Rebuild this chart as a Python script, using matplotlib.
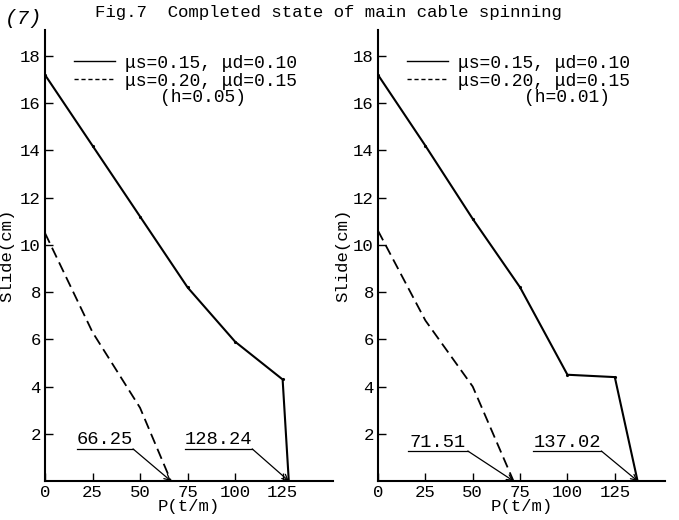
import matplotlib
matplotlib.use("Agg")
import matplotlib.pyplot as plt
from matplotlib.lines import Line2D

plt.rcParams['font.family'] = ['Liberation Mono', 'DejaVu Sans Mono']

# ---- data ----
x_ticks = [0, 25, 50, 75, 100, 125]
y_ticks = [2, 4, 6, 8, 10, 12, 14, 16, 18]

# left panel (h=0.05)
left_solid_x = [0, 25, 50, 75, 100, 125, 128.24]
left_solid_y = [17.2, 14.2, 11.2, 8.2, 5.9, 4.3, 0.0]
left_dash_x = [0, 25, 50, 66.25]
left_dash_y = [10.5, 6.3, 3.1, 0.0]

# right panel (h=0.01)
right_solid_x = [0, 25, 50, 75, 100, 125, 137.02]
right_solid_y = [17.2, 14.2, 11.1, 8.2, 4.5, 4.4, 0.0]
right_dash_x = [0, 25, 50, 71.51]
right_dash_y = [10.6, 6.8, 4.0, 0.0]

labels = ["μs=0.15, μd=0.10", "μs=0.20, μd=0.15"]
h_labels = ["(h=0.05)", "(h=0.01)"]
end_labels_left = ["66.25", "128.24"]
end_labels_right = ["71.51", "137.02"]

fig = plt.figure(figsize=(6.79, 5.20), dpi=100)
axL = fig.add_axes([45/679, 1-481/520, 288/679, 451/520])
axR = fig.add_axes([378/679, 1-481/520, 287/679, 451/520])

def style(ax):
    ax.set_xlim(0, 151.5)
    ax.set_ylim(0, 19.1)
    ax.spines['top'].set_visible(False)
    ax.spines['right'].set_visible(False)
    for s in ['left', 'bottom']:
        ax.spines[s].set_linewidth(1.5)
    ax.set_xticks(x_ticks)
    ax.set_yticks(y_ticks)
    ax.tick_params(direction='in', length=6, width=1, labelsize=12.5, pad=3)
    ax.set_xlabel("P(t/m)", fontsize=12.5, labelpad=-1)

def draw(ax, sx, sy, dx, dy, hlab, hx, ends, ann):
    ax.plot(sx, sy, color='black', lw=1.5, marker='.', ms=2.5)
    ax.plot(dx, dy, color='black', lw=1.3, ls=(0, (6, 3)))
    handles = [Line2D([], [], color='black', lw=1.0),
               Line2D([], [], color='black', lw=1.0, ls=(0, (3, 2)))]
    ax.legend(handles, labels, loc='upper left', bbox_to_anchor=(0.10, 0.945),
              frameon=False, fontsize=13, handlelength=2.3, handletextpad=0.55,
              labelspacing=0.05, borderpad=0, borderaxespad=0)
    ax.text(hx, 0.85, hlab, transform=ax.transAxes, fontsize=13,
            ha='center', va='center')
    for (x0, x1, yy), lab, tx in zip(ann, ends, [dx[-1], sx[-1]]):
        ax.plot([x0, x1], [yy, yy], color='black', lw=0.9)
        ax.text((x0 + x1) / 2, yy + 0.02, lab, fontsize=13.5, ha='center', va='bottom')
        ax.annotate('', xy=(tx, 0), xytext=(x1, yy),
                    arrowprops=dict(arrowstyle='->', color='black', lw=0.9,
                                    shrinkA=0, shrinkB=0))

style(axL)
style(axR)
axL.set_ylabel("Slide(cm)", fontsize=12.5, labelpad=4)
axR.set_ylabel("Slide(cm)", fontsize=12.5, labelpad=2)

draw(axL, left_solid_x, left_solid_y, left_dash_x, left_dash_y, h_labels[0], 0.55,
     end_labels_left, [(16.8, 46.3, 1.36), (73.7, 109.0, 1.36)])
draw(axR, right_solid_x, right_solid_y, right_dash_x, right_dash_y, h_labels[1], 0.66,
     end_labels_right, [(15.8, 47.4, 1.27), (81.6, 117.9, 1.27)])

fig.text(95/679, 1-13/520, "Fig.7  Completed state of main cable spinning",
         fontsize=12.5, ha='left', va='center')
fig.text(5/679, 1-18/520, "(7)", fontsize=15, style='italic', ha='left', va='center')

fig.savefig("out.png", dpi=100)
